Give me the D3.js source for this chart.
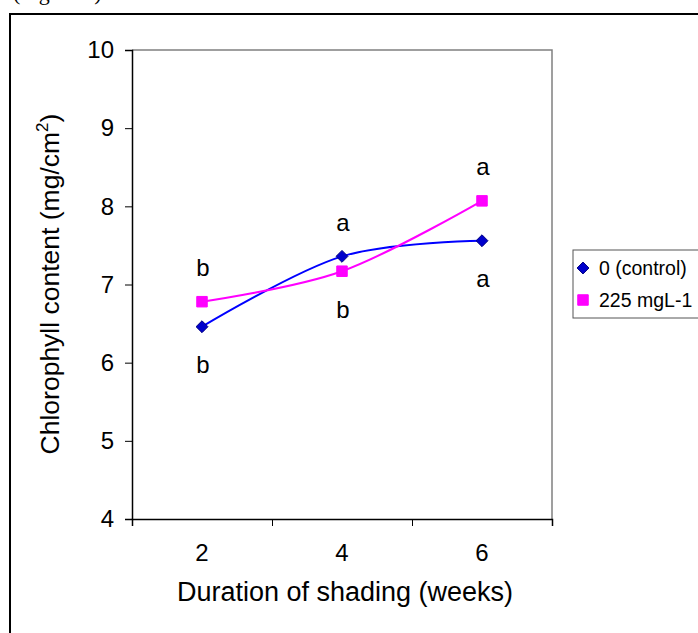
<!DOCTYPE html>
<html>
<head>
<meta charset="utf-8">
<script src="https://cdn.jsdelivr.net/npm/d3@7"></script>
<style>
  html, body { margin: 0; padding: 0; background: #fff; }
  svg { display: block; font-family: "Liberation Sans", Arial, sans-serif; }
</style>
</head>
<body>
<svg id="chart" width="698" height="633"></svg>
<script>
// ---- data ----
const categories = ["2", "4", "6"];
const seriesNames = ["0 (control)", "225 mgL-1"];
const controlValues = [6.46, 7.36, 7.56];
const treatedValues = [6.78, 7.17, 8.07];
const controlLetters = ["b", "a", "a"];
const controlLetterSide = ["below", "above", "below"];
const treatedLetters = ["b", "b", "a"];
const treatedLetterSide = ["above", "below", "above"];
const yTicks = [4, 5, 6, 7, 8, 9, 10];
const yDomain = [4, 10];
const xTitle = "Duration of shading (weeks)";
const yTitle = "Chlorophyll content (mg/cm";
const figureCaption = "(Figure 1)";

// ---- layout ----
const svg = d3.select("#chart");
const plot = { left: 132, right: 552, top: 50, bottom: 519 };

const x = d3.scaleBand().domain(categories).range([plot.left, plot.right]).padding(0);
const xc = c => x(c) + x.bandwidth() / 2;
const xEdges = d3.scaleLinear().domain([0, categories.length]).range([plot.left, plot.right]);
const y = d3.scaleLinear().domain(yDomain).range([plot.bottom, plot.top]);

// caption partially cut at top (as in the reference)
svg.append("text").attr("x", 13).attr("y", 0)
  .attr("font-family", "Liberation Serif, Times New Roman, serif")
  .attr("font-size", 22).text(figureCaption);

// outer frame
svg.append("rect").attr("x", 10).attr("y", 14).attr("width", 720).attr("height", 650)
  .attr("fill", "none").attr("stroke", "#000").attr("stroke-width", 2);

// plot area top / right border (grey)
svg.append("path")
  .attr("d", `M${plot.left},${plot.top}H${plot.right}V${plot.bottom}`)
  .attr("fill", "none").attr("stroke", "#808080").attr("stroke-width", 1.5);

// y axis
const yAxis = svg.append("g").attr("transform", `translate(${plot.left},0)`)
  .call(d3.axisLeft(y).tickValues(yTicks).tickSize(7).tickPadding(11).tickFormat(d3.format("d")));
yAxis.select(".domain").attr("stroke", "#000").attr("stroke-width", 1.5);
yAxis.selectAll(".tick line").attr("stroke", "#000");
yAxis.selectAll(".tick text").attr("font-size", 24).attr("fill", "#000")
  .attr("font-family", "Liberation Sans, Arial, sans-serif");

// x axis: boundary ticks
const xAxisTicks = svg.append("g").attr("transform", `translate(0,${plot.bottom})`)
  .call(d3.axisBottom(xEdges).tickValues(d3.range(categories.length + 1)).tickSize(7).tickFormat(""));
xAxisTicks.select(".domain").attr("stroke", "#000").attr("stroke-width", 1.5);
xAxisTicks.selectAll(".tick line").attr("stroke", "#000");

// x axis: category labels
const xAxisLabels = svg.append("g").attr("transform", `translate(0,${plot.bottom})`)
  .call(d3.axisBottom(x).tickSize(0).tickPadding(25));
xAxisLabels.select(".domain").remove();
xAxisLabels.selectAll(".tick text").attr("font-size", 24).attr("fill", "#000")
  .attr("font-family", "Liberation Sans, Arial, sans-serif");

// titles
svg.append("text").attr("x", 345).attr("y", 601).attr("text-anchor", "middle")
  .attr("font-size", 27).text(xTitle);

const yt = svg.append("text").attr("text-anchor", "middle")
  .attr("transform", "translate(59,284) rotate(-90)")
  .attr("font-size", 26.5);
yt.append("tspan").text(yTitle);
yt.append("tspan").attr("font-size", 17).attr("dy", -11).text("2");
yt.append("tspan").attr("dy", 11).text(")");

// series
const series = [
  { name: seriesNames[0], values: controlValues, letters: controlLetters, sides: controlLetterSide,
    line: "#0000FF", marker: "diamond", fill: "#0000CC", stroke: "#000080" },
  { name: seriesNames[1], values: treatedValues, letters: treatedLetters, sides: treatedLetterSide,
    line: "#FF00FF", marker: "square", fill: "#FF00FF", stroke: "#FF00FF" }
];

const lineGen = d3.line()
  .x((d, i) => xc(categories[i]))
  .y(d => y(d))
  .curve(d3.curveCardinal.tension(0));

const diamond = d3.symbol().type(d3.symbolDiamond2).size(90);
const square = d3.symbol().type(d3.symbolSquare).size(110);

series.forEach(s => {
  svg.append("path").attr("d", lineGen(s.values))
    .attr("fill", "none").attr("stroke", s.line).attr("stroke-width", 2);
});
series.forEach(s => {
  svg.selectAll(null).data(s.values).enter().append("path")
    .attr("transform", (d, i) => `translate(${xc(categories[i])},${y(d)})`)
    .attr("d", s.marker === "diamond" ? diamond() : square())
    .attr("fill", s.fill).attr("stroke", s.stroke).attr("stroke-width", 1);
  svg.selectAll(null).data(s.values).enter().append("text")
    .attr("x", (d, i) => xc(categories[i]) + 1)
    .attr("y", (d, i) => y(d) + (s.sides[i] === "above" ? -34 : 38))
    .attr("dy", "0.35em")
    .attr("text-anchor", "middle")
    .attr("font-size", 24)
    .text((d, i) => s.letters[i]);
});

// legend
const lg = svg.append("g").attr("transform", "translate(573,250)");
lg.append("rect").attr("x", 0).attr("y", 0).attr("width", 200).attr("height", 68)
  .attr("fill", "#fff").attr("stroke", "#555").attr("stroke-width", 1);
series.forEach((s, i) => {
  const cy = 18 + i * 32;
  lg.append("path").attr("transform", `translate(10,${cy})`)
    .attr("d", s.marker === "diamond" ? diamond() : square())
    .attr("fill", s.fill).attr("stroke", s.stroke);
  lg.append("text").attr("x", 26).attr("y", cy).attr("dy", "0.35em")
    .attr("font-size", 19.5).text(s.name);
});
</script>
</body>
</html>
